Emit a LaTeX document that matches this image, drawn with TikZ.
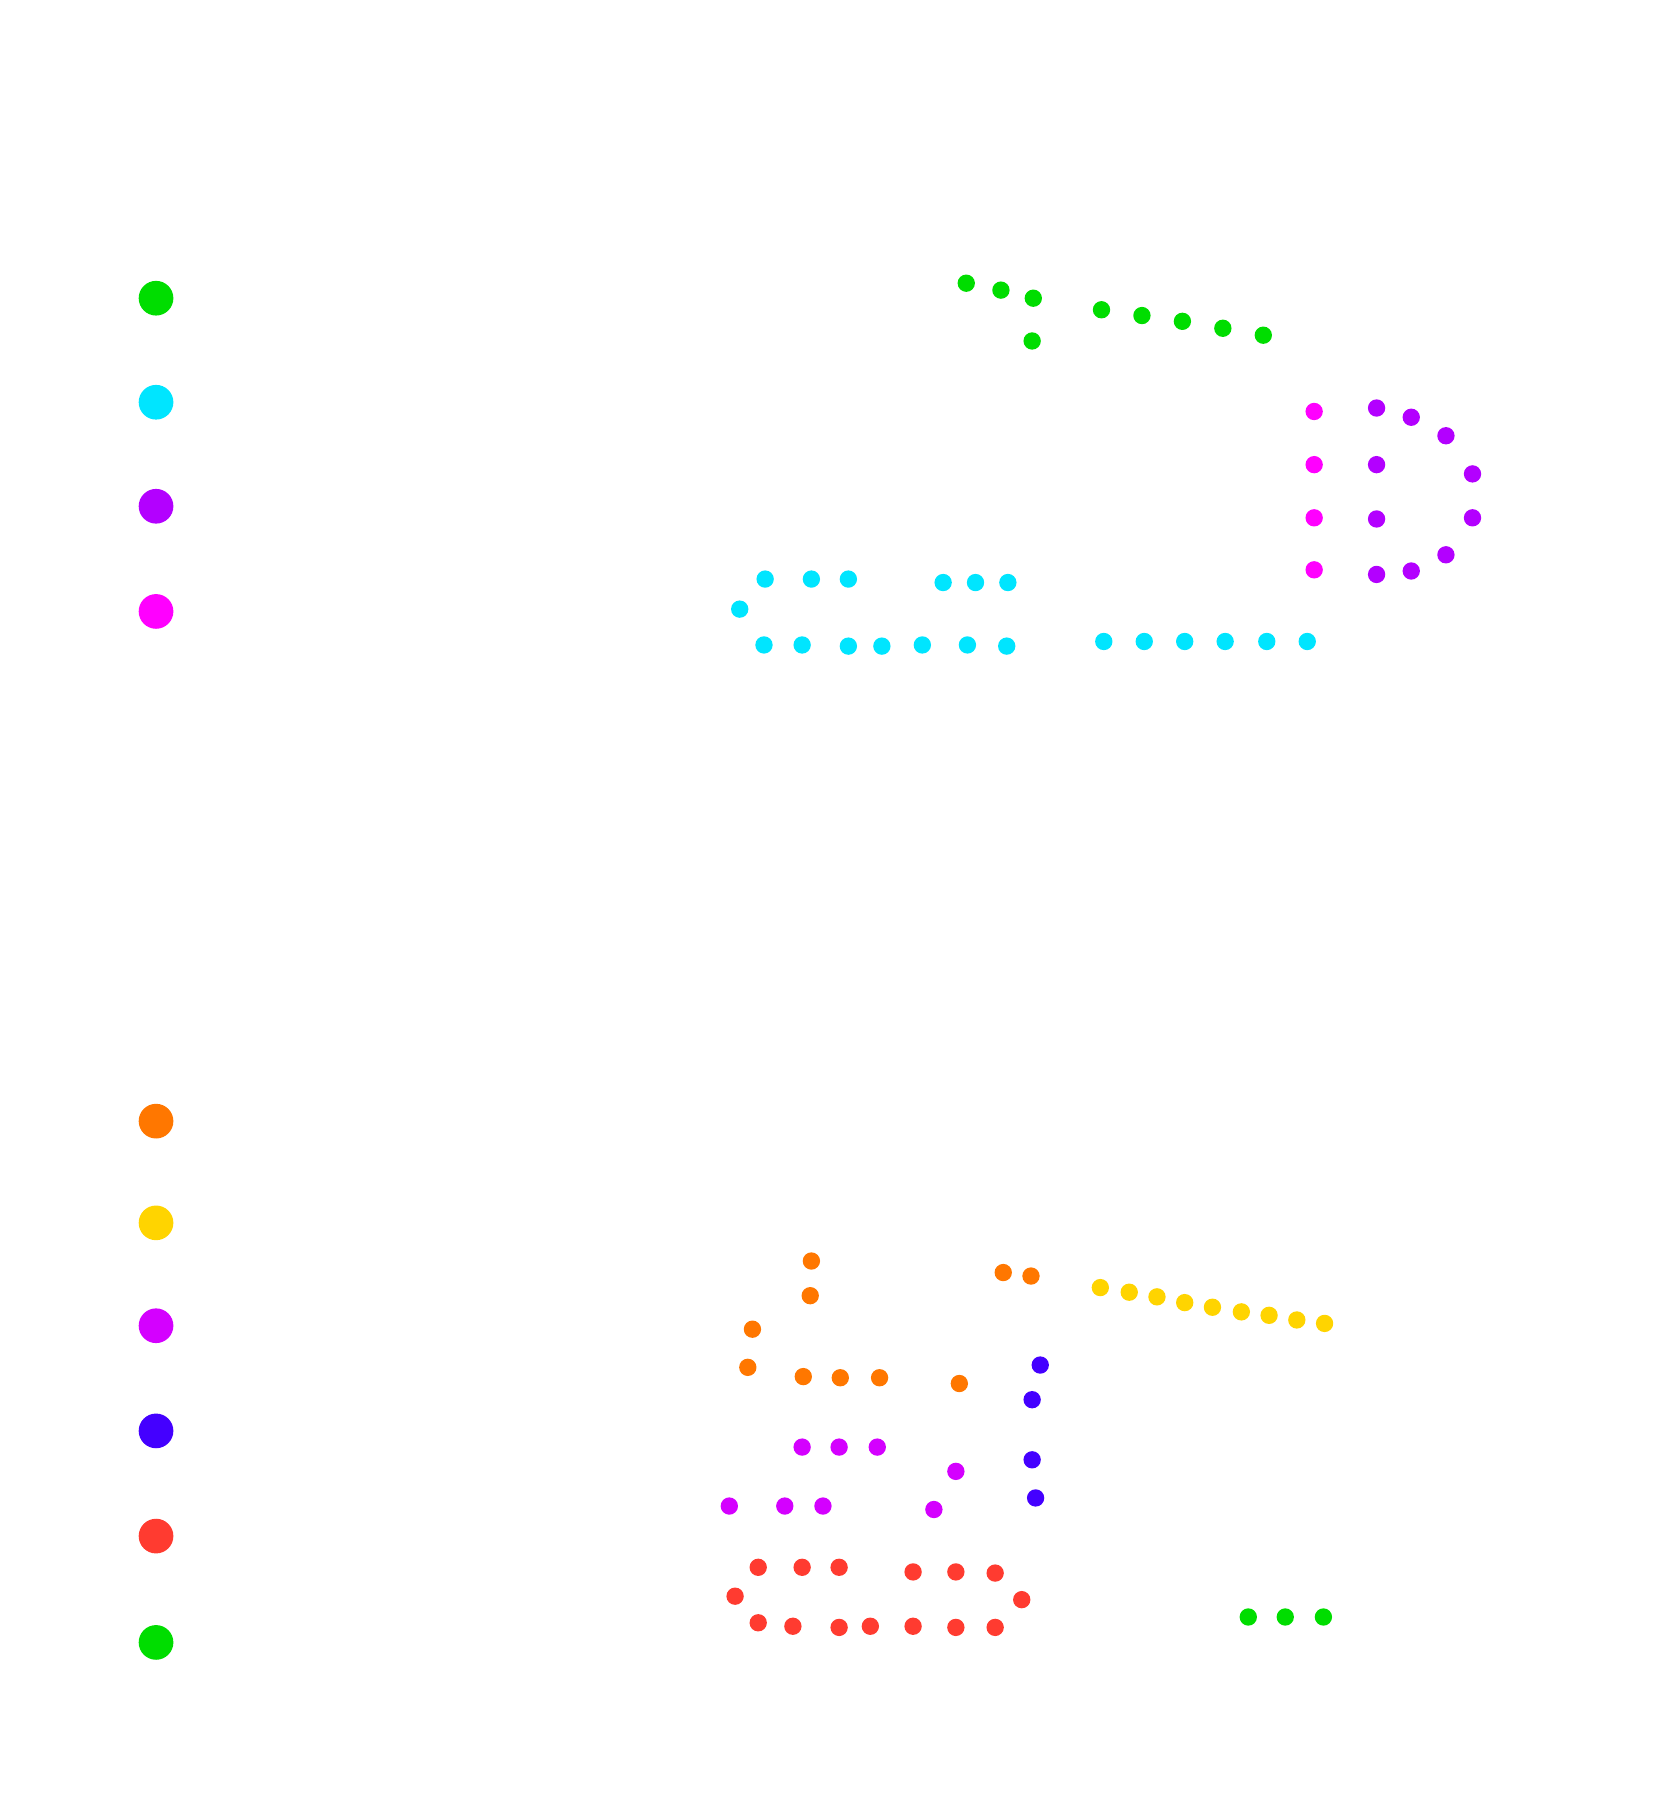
\documentclass[tikz,border=0pt]{standalone}
\definecolor{cgreen}{HTML}{00DD00}
\definecolor{ccyan}{HTML}{00E5FF}
\definecolor{cpurple}{HTML}{B300FF}
\definecolor{cmagenta}{HTML}{FF00FF}
\definecolor{corange}{HTML}{FF7700}
\definecolor{cyellow}{HTML}{FFD400}
\definecolor{cviolet}{HTML}{D400FF}
\definecolor{cblue}{HTML}{4400FF}
\definecolor{cred}{HTML}{FF3B30}
\tikzset{
  dot/.style={circle, fill=#1, inner sep=0pt, minimum size=0.15cm},
  key/.style={circle, fill=#1, inner sep=0pt, minimum size=0.3cm}
}
\begin{document}
\begin{tikzpicture}[x=0.01cm, y=-0.01cm]
				\useasboundingbox (0, 0) rectangle (1450, 1566);
				% Legend top
				\foreach \c/\y in {cgreen/258, ccyan/348, cpurple/438, cmagenta/529}
				  \node[key=\c] (key-\c) at (135, \y) {};
				% Legend bottom
				\foreach \c/\y in {corange/970, cyellow/1058, cviolet/1147, cblue/1238, cred/1329, cgreen/1421}
				  \node[key=\c] (keyb-\c) at (135, \y) {};
				
				% Top green
				\foreach \x/\y [count=\i] in {836/245, 866/251, 894/258, 893/295, 953/268, 988/273, 1023/278, 1058/284, 1093/290}
				  \node[dot=cgreen] (g\i) at (\x, \y) {};
				% Magenta and purple
				\foreach \y [count=\i] in {356, 402, 448, 493}
				  \node[dot=cmagenta] (m\i) at (1137, \y) {};
				\foreach \x/\y [count=\i] in {1191/353, 1221/361, 1251/377, 1274/410, 1274/448, 1251/480, 1221/494, 1191/497, 1191/402, 1191/449}
				  \node[dot=cpurple] (p\i) at (\x, \y) {};
				% Cyan
				\foreach \x/\y [count=\i] in {662/501, 702/501, 734/501, 816/504, 844/504, 872/504, 640/527, 661/558, 694/558, 734/559, 763/559, 798/558, 837/558, 871/559, 955/555, 990/555, 1025/555, 1060/555, 1096/555, 1131/555}
				  \node[dot=ccyan] (c\i) at (\x, \y) {};
				
				% Orange
				\foreach \x/\y [count=\i] in {702/1091, 701/1121, 651/1150, 647/1183, 695/1191, 727/1192, 761/1192, 830/1197, 868/1101, 892/1104}
				  \node[dot=corange] (o\i) at (\x, \y) {};
				% Yellow
				\foreach \x/\y [count=\i] in {952/1114, 977/1118, 1001/1122, 1025/1127, 1049/1131, 1074/1135, 1098/1138, 1122/1142, 1146/1145}
				  \node[dot=cyellow] (y\i) at (\x, \y) {};
				% Violet
				\foreach \x/\y [count=\i] in {694/1252, 726/1252, 759/1252, 827/1273, 631/1303, 679/1303, 712/1303, 808/1306}
				  \node[dot=cviolet] (v\i) at (\x, \y) {};
				% Blue
				\foreach \x/\y [count=\i] in {900/1181, 893/1211, 893/1263, 896/1296}
				  \node[dot=cblue] (b\i) at (\x, \y) {};
				% Red
				\foreach \x/\y [count=\i] in {656/1356, 694/1356, 726/1356, 790/1360, 827/1360, 861/1361, 884/1384, 636/1381, 656/1404, 686/1407, 726/1408, 753/1407, 790/1407, 827/1408, 861/1408}
				  \node[dot=cred] (r\i) at (\x, \y) {};
				% Bottom green
				\foreach \x [count=\i] in {1080, 1112, 1145}
				  \node[dot=cgreen] (gb\i) at (\x, 1399) {};
			\end{tikzpicture}
\end{document}
